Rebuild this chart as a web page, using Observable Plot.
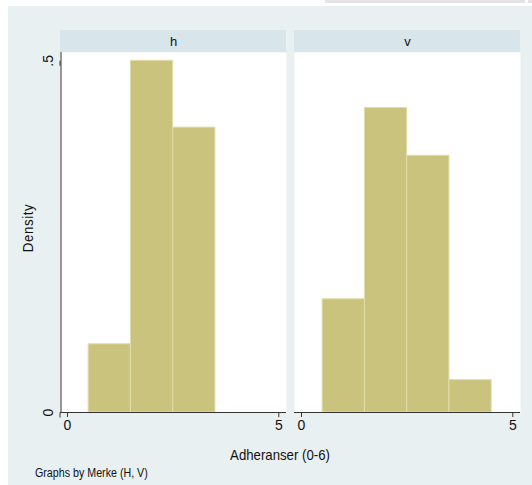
<!DOCTYPE html>
<html>
<head>
<meta charset="utf-8">
<script src="https://cdn.jsdelivr.net/npm/d3@7"></script>
<script src="https://cdn.jsdelivr.net/npm/@observablehq/plot@0.6"></script>
<style>
  html, body { margin: 0; padding: 0; background: #ffffff; }
  body { width: 532px; height: 485px; position: relative; overflow: hidden;
         font-family: "Liberation Sans", Arial, sans-serif; }
  #bg { position: absolute; left: 8px; top: 6px; width: 524px; height: 479px; background: #e9f0f2; }
  #topbox { position: absolute; left: 325px; top: 0; width: 200px; height: 3px; background: #e4e4e4; }
  #topbox2 { position: absolute; left: 528px; top: 0; width: 4px; height: 3px; background: #e4e4e4; }
  #chart { position: absolute; left: 0; top: 0; }
  .lbl { position: absolute; color: #111; white-space: nowrap; }
  #ytitle { left: 28px; top: 228px; font-size: 14px; transform: translate(-50%, -50%) rotate(-90deg) scaleX(0.95); letter-spacing: 0.6px; }
  #xtitle { left: 280px; top: 454px; font-size: 15px; transform: translate(-50%, -50%) scaleX(0.88); }
  #caption { left: 35px; top: 473px; font-size: 12px; transform-origin: left center; transform: translate(0, -50%) scaleX(0.89); }
</style>
</head>
<body>
<div id="bg"></div>
<div id="topbox"></div>
<div id="topbox2"></div>
<div id="chart"></div>
<div class="lbl" id="ytitle">Density</div>
<div class="lbl" id="xtitle">Adheranser (0-6)</div>
<div class="lbl" id="caption">Graphs by Merke (H, V)</div>
<script>
// ---- data ----
const facets = ["h", "v"];
const hBinStart = [0.5, 1.5, 2.5];
const hDensity = [0.097, 0.5, 0.405];
const vBinStart = [0.5, 1.5, 2.5, 3.5];
const vDensity = [0.161, 0.433, 0.365, 0.046];
const binWidth = 1;
const xTicks = [0, 5];
const yTicks = [0, 0.5];
const yTickLabels = ["0", ".5"];

// ---- build table ----
const bars = [];
hBinStart.forEach((s, i) => bars.push({merke: "h", x1: s, x2: s + binWidth, density: hDensity[i]}));
vBinStart.forEach((s, i) => bars.push({merke: "v", x1: s, x2: s + binWidth, density: vDensity[i]}));

const xDomain = [-0.166, 5.182];
const yDomain = [0, 0.5118];
const stripSpan = 0.0313;
const strips = facets.map(f => ({merke: f}));

const chart = Plot.plot({
  width: 532,
  height: 485,
  marginLeft: 60,
  marginRight: 12,
  marginTop: 52,
  marginBottom: 73,
  style: {background: "transparent", fontFamily: '"Liberation Sans", Arial, sans-serif', fontSize: "14px", color: "#111"},
  fx: {domain: facets, paddingInner: 8 / 234, paddingOuter: 0, axis: null, label: null},
  x: {domain: xDomain, label: null},
  y: {domain: yDomain, label: null},
  marks: [
    Plot.frame({fill: "white", stroke: null}),
    // facet strips
    Plot.rect(strips, {fx: "merke", y1: yDomain[1], y2: yDomain[1] + stripSpan, fill: "#d8e5eb"}),
    Plot.text(strips, {fx: "merke", y: yDomain[1] + stripSpan / 2, text: "merke", fontSize: 13, fill: "#111", dy: 0}),
    // bars
    Plot.rectY(bars, {fx: "merke", x1: "x1", x2: "x2", y: "density", fill: "#c9c37e", stroke: "#e2dda9", strokeWidth: 1, inset: 0}),
    // axes
    Plot.ruleY([0], {stroke: "#333", strokeWidth: 1}),
    Plot.ruleX([{merke: "h", x: xDomain[0]}], {fx: "merke", x: "x", y1: 0, y2: yDomain[1], stroke: "#333", strokeWidth: 1, dx: 0.5}),
    Plot.axisX({ticks: xTicks, tickSize: 5, tickPadding: 3, tickFormat: d => String(d), stroke: "#333", fill: "#111", fontSize: 14, label: null}),
    Plot.axisY({ticks: yTicks, tickSize: 5, tickPadding: 3, tickFormat: d => yTickLabels[yTicks.indexOf(d)], rotate: -90, textAnchor: "middle", lineAnchor: "bottom", stroke: "#333", fill: "#111", fontSize: 14, label: null, anchor: "left"})
  ]
});
document.getElementById("chart").appendChild(chart);
</script>
</body>
</html>
